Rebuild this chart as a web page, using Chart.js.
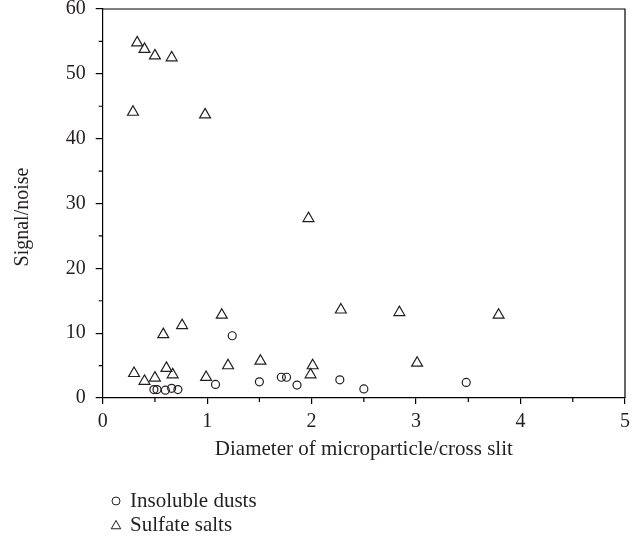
<!DOCTYPE html>
<html>
<head>
<meta charset="utf-8">
<script src="https://cdn.jsdelivr.net/npm/chart.js@4.4.1/dist/chart.umd.min.js"></script>
<style>
  html, body { margin: 0; padding: 0; background: #fff; }
  #cadre { display: block; }
</style>
</head>
<body>
<canvas id="cadre" width="644" height="542"></canvas>
<script>
// Insoluble dusts (circles)
const dustX = [0.49, 0.52, 0.60, 0.66, 0.72, 1.08, 1.24, 1.50, 1.71, 1.76, 1.86, 2.27, 2.50, 3.48];
const dustY = [1.3, 1.3, 1.2, 1.5, 1.3, 2.1, 9.6, 2.5, 3.2, 3.2, 2.0, 2.8, 1.4, 2.4];

// Sulfate salts (triangles)
const saltX = [0.29, 0.33, 0.40, 0.50, 0.66, 0.98, 1.97, 0.30, 0.40, 0.50, 0.58, 0.76, 0.61, 0.67,
  1.14, 0.99, 1.20, 1.51, 2.01, 1.99, 2.28, 2.84, 3.01, 3.79];
const saltY = [44.1, 54.8, 53.8, 52.8, 52.5, 43.7, 27.7, 3.8, 2.6, 3.1, 9.8, 11.2, 4.6, 3.6,
  12.8, 3.2, 5.0, 5.7, 5.0, 3.6, 13.6, 13.2, 5.4, 12.8];

const xTicks = [0, 1, 2, 3, 4, 5];
const yTicks = [0, 10, 20, 30, 40, 50, 60];
const yTitle = "Signal/noise";

const serif = "'Liberation Serif', 'DejaVu Serif', serif";
const ink = "#231f20";

function toPoints(xs, ys) {
  let pts = [];
  for (let i = 0; i < xs.length; i++) {
    pts.push({ x: xs[i], y: ys[i] });
  }
  return pts;
}

// minor ticks, top/right frame, y title and the stacked legend under the chart
const extras = {
  id: "extras",
  afterDraw(chart) {
    const ctx = chart.ctx;
    const a = chart.chartArea;
    const xs = chart.scales.x;
    const ys = chart.scales.y;
    ctx.save();
    ctx.strokeStyle = "#000";
    ctx.lineWidth = 1.2;
    ctx.beginPath();
    ctx.moveTo(a.left, a.top);
    ctx.lineTo(a.right, a.top);
    ctx.lineTo(a.right, a.bottom);
    for (let i = 0; i < xTicks.length - 1; i++) {
      let px = xs.getPixelForValue(xTicks[i] + 0.5);
      ctx.moveTo(px, a.bottom);
      ctx.lineTo(px, a.bottom + 4);
    }
    for (let i = 0; i < yTicks.length - 1; i++) {
      let py = ys.getPixelForValue(yTicks[i] + 5);
      ctx.moveTo(a.left, py);
      ctx.lineTo(a.left - 4, py);
    }
    ctx.stroke();

    // y axis title, sits a little below the axis centre in the original
    ctx.save();
    ctx.translate(23, 217);
    ctx.rotate(-Math.PI / 2);
    ctx.font = "20px " + serif;
    ctx.fillStyle = ink;
    ctx.textAlign = "center";
    ctx.textBaseline = "middle";
    ctx.fillText(yTitle, 0, 0);
    ctx.restore();

    ctx.font = "21px " + serif;
    ctx.textBaseline = "middle";
    chart.data.datasets.forEach((ds, i) => {
      let y = 501 + i * 24;
      let tri = ds.pointStyle === "triangle";
      ctx.strokeStyle = ds.borderColor;
      ctx.fillStyle = "rgba(0,0,0,0)";
      ctx.lineWidth = 1;
      Chart.helpers.drawPoint(ctx, {
        pointStyle: ds.pointStyle,
        radius: tri ? 5.5 : 4,
        rotation: 0,
        borderWidth: 1
      }, 116, y + (tri ? 1 : 0));
      ctx.fillStyle = ink;
      ctx.fillText(ds.label, 130, y);
    });
    ctx.restore();
  }
};

const ctx = document.getElementById("cadre").getContext("2d");

const chart = new Chart(ctx, {
  type: "scatter",
  data: {
    datasets: [
      {
        label: "Insoluble dusts",
        data: toPoints(dustX, dustY),
        pointStyle: "circle",
        pointRadius: 4,
        pointBorderWidth: 1.2,
        borderColor: ink,
        backgroundColor: "rgba(0,0,0,0)"
      },
      {
        label: "Sulfate salts",
        data: toPoints(saltX, saltY),
        pointStyle: "triangle",
        pointRadius: 6.3,
        pointBorderWidth: 1.2,
        borderColor: ink,
        backgroundColor: "rgba(0,0,0,0)"
      }
    ]
  },
  options: {
    responsive: false,
    animation: false,
    layout: { padding: { top: 9, right: 19, bottom: 80, left: 0 } },
    plugins: {
      legend: { display: false },
      tooltip: { enabled: false }
    },
    scales: {
      x: {
        type: "linear",
        min: 0,
        max: 5,
        afterFit: (scale) => { scale.height = 64; },
        afterBuildTicks: (scale) => { scale.ticks = xTicks.map(v => ({ value: v })); },
        ticks: { color: ink, font: { family: serif, size: 20 }, padding: 6 },
        grid: { drawOnChartArea: false, tickLength: 6, color: "#000", lineWidth: 1.2 },
        border: { color: "#000", width: 1.2 },
        title: {
          display: true,
          text: "Diameter of microparticle/cross slit",
          color: ink,
          font: { family: serif, size: 21 },
          padding: { top: 0, bottom: 0 }
        }
      },
      y: {
        type: "linear",
        min: 0,
        max: 60,
        afterFit: (scale) => {
          scale.width = 102.7;
          scale.paddingTop = 0;
          scale.paddingBottom = 0;
        },
        afterBuildTicks: (scale) => { scale.ticks = yTicks.map(v => ({ value: v })); },
        ticks: { color: ink, font: { family: serif, size: 20 }, padding: 10 },
        grid: { drawOnChartArea: false, tickLength: 7, color: "#000", lineWidth: 1.2 },
        border: { color: "#000", width: 1.2 }
      }
    }
  },
  plugins: [extras]
});
</script>
</body>
</html>
